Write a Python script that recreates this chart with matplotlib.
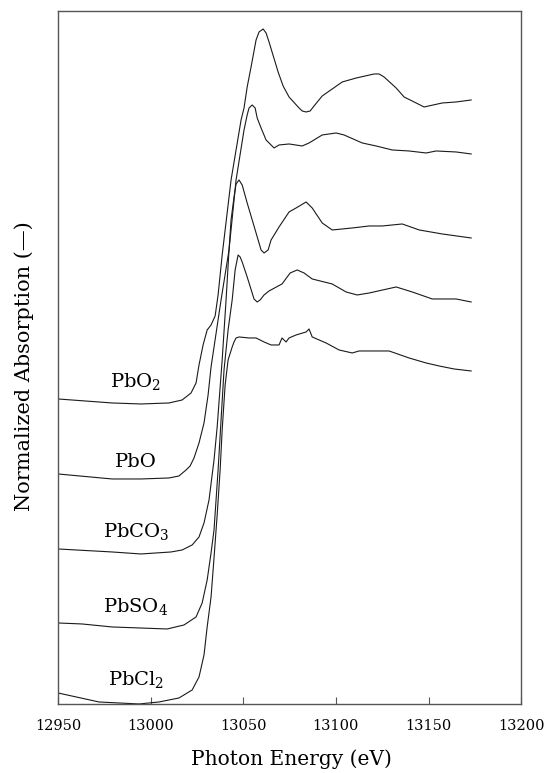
#Importing the libraries
import numpy as np
import matplotlib.pyplot as plt

plt.rcParams['font.family'] = ['DejaVu Serif']
plt.rcParams['mathtext.fontset'] = 'dejavuserif'

#Spectra (energy in eV, normalized absorption with offset)
pbo2_e = [12950, 12979.2, 12994.8, 13009.9, 13017.0, 13021.8, 13024.5, 13026.1, 13028.3, 13030.5,
          13032.6, 13034.8, 13036.4, 13038.6, 13043.4, 13048.8, 13050.4, 13052.1, 13054.2, 13056.9,
          13058.5, 13060.7, 13062.3, 13063.9, 13068.8, 13071.5, 13074.7, 13080.1, 13081.8, 13083.9,
          13086.1, 13088.2, 13092.6, 13103.4, 13111.0, 13115.8, 13120.6, 13123.3, 13126.0, 13132.5,
          13136.8, 13143.3, 13147.6, 13157.4, 13164.9, 13173.0]
pbo2_a = [3.05, 3.01, 3.00, 3.01, 3.04, 3.11, 3.21, 3.39, 3.59, 3.74,
          3.79, 3.88, 4.09, 4.49, 5.24, 5.84, 5.96, 6.17, 6.37, 6.64,
          6.72, 6.75, 6.71, 6.62, 6.32, 6.18, 6.07, 5.96, 5.93, 5.92,
          5.93, 5.98, 6.08, 6.22, 6.26, 6.28, 6.30, 6.30, 6.27, 6.16,
          6.07, 6.01, 5.97, 6.01, 6.02, 6.04]

pbo_e = [12950, 12979.2, 12994.8, 13009.9, 13015.3, 13019.1, 13021.3, 13023.4, 13026.1, 13028.8,
         13031.0, 13032.6, 13038.0, 13042.3, 13046.1, 13050.4, 13052.1, 13053.1, 13054.8, 13056.4,
         13057.5, 13059.6, 13062.3, 13066.6, 13069.3, 13074.7, 13081.8, 13085.5, 13092.6, 13100.1,
         13104.4, 13114.2, 13121.7, 13130.4, 13139.5, 13148.7, 13154.1, 13164.9, 13173.0]
pbo_a = [2.30, 2.25, 2.25, 2.26, 2.28, 2.34, 2.38, 2.46, 2.61, 2.81,
         3.09, 3.37, 4.04, 4.54, 5.24, 5.74, 5.89, 5.96, 5.99, 5.96,
         5.86, 5.76, 5.64, 5.56, 5.59, 5.60, 5.58, 5.61, 5.69, 5.71,
         5.69, 5.61, 5.58, 5.54, 5.53, 5.51, 5.53, 5.52, 5.50]

pbco3_e = [12950, 12979.2, 12994.8, 13011.0, 13017.0, 13022.4, 13026.1, 13028.8, 13031.5, 13034.2,
           13035.9, 13038.6, 13040.7, 13042.3, 13043.4, 13045.0, 13046.1, 13047.7, 13049.4, 13052.1,
           13056.9, 13059.6, 13061.2, 13063.4, 13065.0, 13069.3, 13074.7, 13078.5, 13083.9, 13087.2,
           13092.6, 13098.0, 13108.8, 13118.0, 13125.0, 13135.8, 13145.0, 13157.4, 13173.0]
pbco3_a = [1.55, 1.52, 1.50, 1.52, 1.54, 1.59, 1.67, 1.81, 2.04, 2.44,
           2.77, 3.44, 4.04, 4.54, 4.84, 5.07, 5.20, 5.24, 5.19, 5.01,
           4.71, 4.54, 4.51, 4.54, 4.64, 4.77, 4.92, 4.96, 5.02, 4.96,
           4.81, 4.74, 4.76, 4.78, 4.78, 4.80, 4.74, 4.70, 4.66]

pbso4_e = [12950, 12963.0, 12979.2, 13008.9, 13018.0, 13024.5, 13027.8, 13030.5, 13032.6, 13034.2,
           13036.4, 13038.0, 13039.6, 13041.8, 13044.0, 13045.6, 13047.2, 13048.3, 13049.4, 13052.1,
           13054.8, 13055.8, 13057.5, 13059.1, 13061.2, 13063.9, 13070.9, 13075.3, 13079.1, 13082.8,
           13087.2, 13098.0, 13105.5, 13111.5, 13118.0, 13132.5, 13141.2, 13152.0, 13164.9, 13173.0]
pbso4_a = [0.81, 0.80, 0.77, 0.75, 0.79, 0.87, 1.01, 1.24, 1.51, 1.74,
           2.34, 2.84, 3.34, 3.74, 4.04, 4.34, 4.49, 4.47, 4.42, 4.27,
           4.11, 4.05, 4.02, 4.04, 4.09, 4.13, 4.20, 4.31, 4.34, 4.31,
           4.25, 4.20, 4.12, 4.09, 4.11, 4.17, 4.12, 4.05, 4.05, 4.02]

pbcl2_e = [12950, 12972.1, 12993.7, 13004.5, 13015.3, 13022.4, 13026.1, 13028.8, 13030.5, 13032.6,
           13034.2, 13035.9, 13037.5, 13038.6, 13040.2, 13041.8, 13044.0, 13045.0, 13046.1, 13047.7,
           13053.1, 13056.9, 13061.2, 13065.0, 13069.3, 13070.9, 13073.1, 13074.7, 13078.5, 13083.9,
           13085.5, 13087.2, 13094.7, 13101.7, 13108.8, 13112.5, 13128.7, 13139.5, 13148.7, 13155.7,
           13163.8, 13173.0]
pbcl2_a = [0.11, 0.02, 0.00, 0.02, 0.06, 0.14, 0.27, 0.49, 0.77, 1.07,
           1.46, 1.89, 2.34, 2.74, 3.19, 3.44, 3.57, 3.62, 3.66, 3.67,
           3.66, 3.66, 3.62, 3.59, 3.59, 3.66, 3.62, 3.66, 3.69, 3.72,
           3.75, 3.67, 3.61, 3.54, 3.51, 3.53, 3.53, 3.46, 3.41, 3.38,
           3.35, 3.33]

labels = [r'PbO$_2$', 'PbO', r'PbCO$_3$', r'PbSO$_4$', r'PbCl$_2$']
label_y = [3.17, 2.37, 1.67, 0.92, 0.19]
label_x = 12992

#Plotting
fig = plt.figure(figsize=(5.58, 7.73), dpi=100)
ax = fig.add_axes([0.104, 0.0893, 0.830, 0.8965])

for e, a in [(pbo2_e, pbo2_a), (pbo_e, pbo_a), (pbco3_e, pbco3_a),
             (pbso4_e, pbso4_a), (pbcl2_e, pbcl2_a)]:
    ax.plot(e, a, color='#1a1a1a', linewidth=0.8)

for lab, y in zip(labels, label_y):
    ax.text(label_x, y, lab, ha='center', va='baseline', fontsize=14)

ax.set_xlim(12950, 13200)
ax.set_ylim(0, 6.93)
ax.set_xticks(np.arange(12950, 13201, 50))
ax.set_yticks([])
ax.tick_params(axis='x', direction='in', length=5, width=0.8, color='#555555',
               labelsize=10.5, pad=11)
for s in ax.spines.values():
    s.set_color('#555555')
    s.set_linewidth(1.0)

ax.set_xlabel('Photon Energy (eV)', fontsize=14.5)
ax.set_ylabel('Normalized Absorption (\u2014)', fontsize=15)
ax.xaxis.set_label_coords(0.505, -0.066)
ax.yaxis.set_label_coords(-0.052, 0.487)

plt.savefig('out.png', dpi=100)
